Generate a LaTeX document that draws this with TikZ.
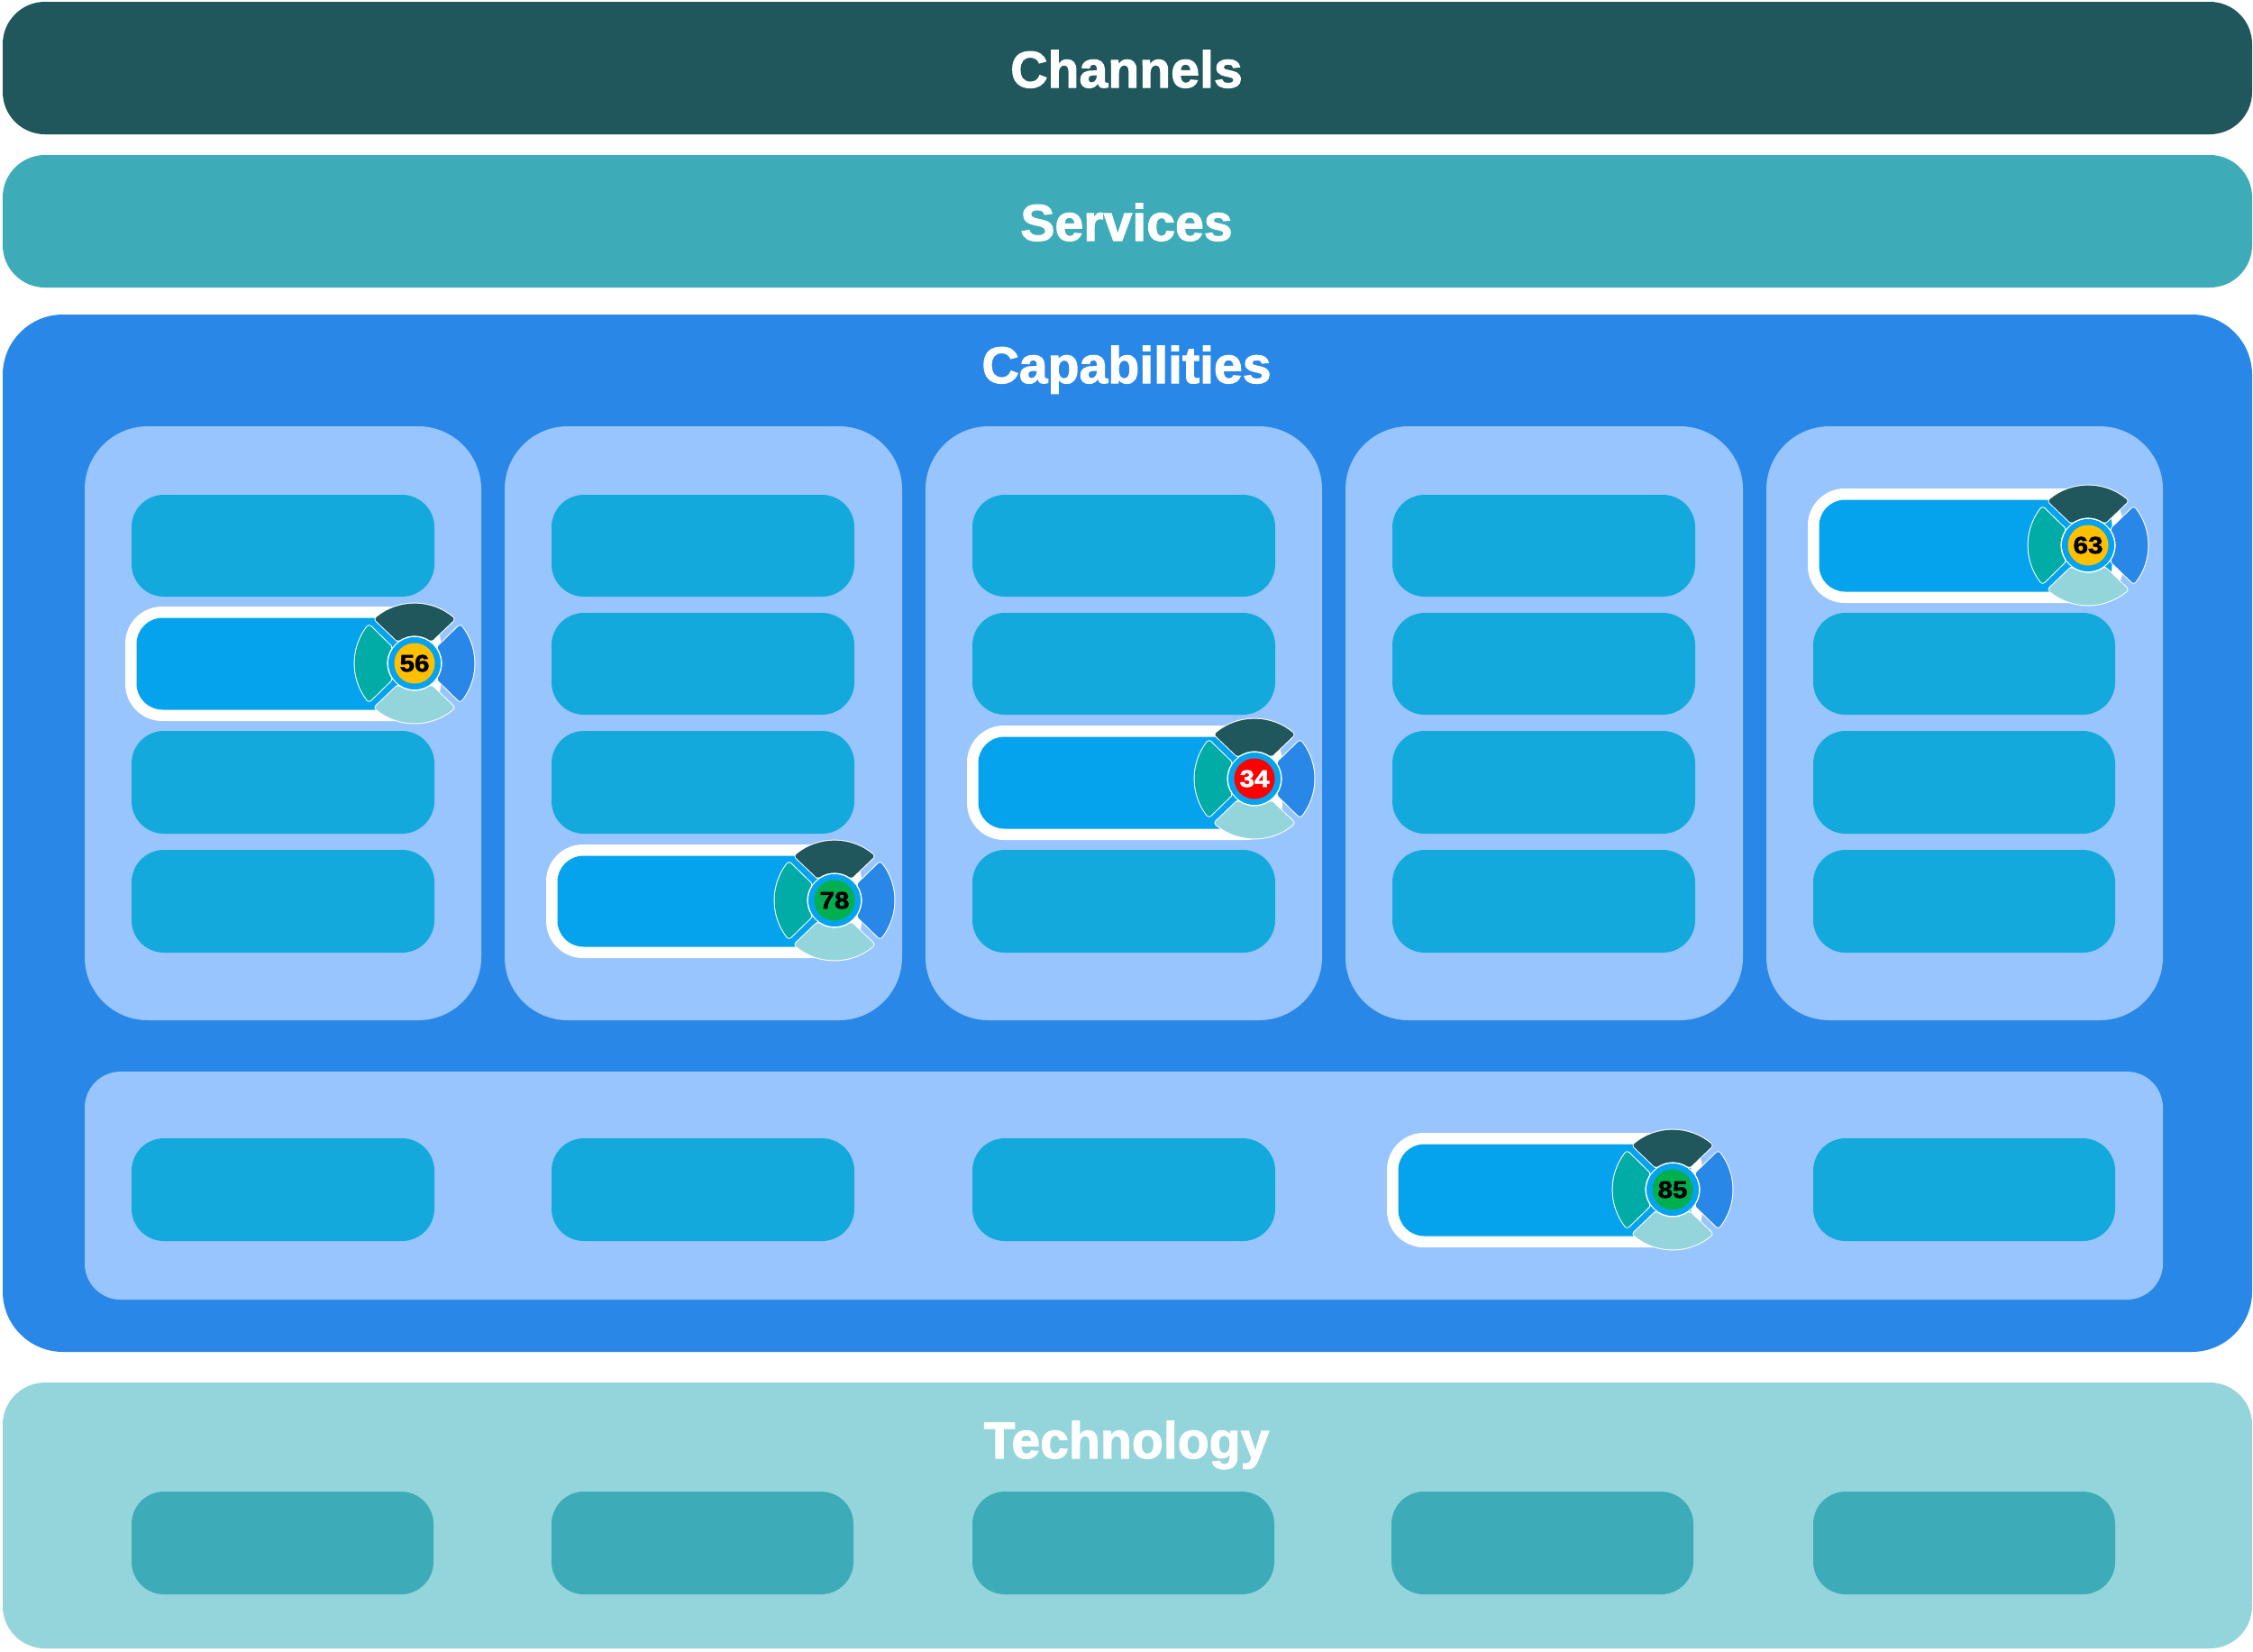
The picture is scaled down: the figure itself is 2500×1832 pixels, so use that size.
\documentclass[tikz,border=0pt]{standalone}
\usepackage{fontspec}
\setmainfont[BoldFeatures={FakeBold=1.8}]{Liberation Sans}
\newfontfamily\numfont[BoldFeatures={FakeBold=1.8,FakeStretch=1.12}]{Liberation Sans}
\definecolor{cChan}{HTML}{1F575C}
\definecolor{cServ}{HTML}{3EACB8}
\definecolor{cCap}{HTML}{2987E8}
\definecolor{cCol}{HTML}{99C5FF}
\definecolor{cBox}{HTML}{13A9DC}
\definecolor{cHi}{HTML}{05A3EE}
\definecolor{cTeal}{HTML}{00ACA5}
\definecolor{cPale}{HTML}{94D5DB}
\definecolor{cYel}{HTML}{FFC000}
\definecolor{cGrn}{HTML}{00B04F}
\definecolor{cRed}{HTML}{FF0000}
\tikzset{
  panelbox/.style={rectangle,inner sep=0pt,outer sep=0pt,draw=none},
  titletext/.style={text=white,font=\fontsize{28.6}{34}\selectfont\bfseries,anchor=base,inner sep=0pt},
  numtext/.style={font=\numfont\fontsize{13.2}{16}\selectfont\bfseries,circle,inner sep=0pt,minimum size=22.5pt},
}
% name, x1, y1, x2, y2, radius(px), fill
\newcommand{\pbox}[7]{\node[panelbox,fill=#7,rounded corners={#6*0.5pt},minimum width={(#4-#2)*0.5pt},minimum height={(#5-#3)*0.5pt}] (#1) at ({(#2+#4)/2},{(#3+#5)/2}) {};}
% mid angle, outer half angle, inner half angle, fill
\newcommand{\wedgeshape}[4]{%
  \def\wedgepath{({#1-#2}:64) arc[start angle={#1-#2},end angle={#1+#2},radius=64] -- ({#1+#3}:33) arc[start angle={#1+#3},end angle={#1-#3},radius=33] -- cycle}%
  \draw[white,line width=3.4pt,line join=round] \wedgepath;
  \draw[#4,fill=#4,line width=2.4pt,line join=round] \wedgepath;}
% name, x1, y1, y2, cx, cy, fill, text colour, number
\newcommand{\hiliter}[9]{%
  \pbox{#1o}{#2}{#3}{(#2+350)}{#4}{41}{white}
  \pbox{#1i}{(#2+12.5)}{(#3+12.5)}{(#2+337.5)}{(#4-12.5)}{29}{cHi}
  \begin{scope}[shift={(#5,#6)}]
    \fill[cHi] (0,0) circle[radius=30];
    \wedgeshape{-90}{40}{34}{cChan}
    \wedgeshape{90}{40}{34}{cPale}
    \wedgeshape{180}{38}{32}{cTeal}
    \wedgeshape{0}{38}{32}{cCap}
    \draw[white,line width=0.7pt] (0,0) circle[radius=29.5];
    \fill[cHi] (0,0) circle[radius=29];
    \node[numtext,fill=#7,text=#8] (#1n) at (0,0) {#9};
  \end{scope}}
\begin{document}
\begin{tikzpicture}[x=0.5pt,y=-0.5pt]
\useasboundingbox[fill=white] (0,0) rectangle (2500,1832);
\pbox{chan}{3}{2}{2499}{149}{47}{cChan}
\pbox{serv}{3}{172}{2499}{319}{47}{cServ}
\pbox{capa}{3}{349}{2499}{1500}{67}{cCap}
\pbox{tech}{3}{1534}{2499}{1829}{47}{cPale}
\node[titletext] (tchan) at (1250,97) {Channels};
\node[titletext] (tserv) at (1250,267) {Services};
\node[titletext] (tcapa) at (1250,425) {Capabilities};
\node[titletext] (ttech) at (1250,1618) {Technology};
% columns
\pbox{c1}{94}{473}{534}{1132}{70}{cCol}
\pbox{c2}{560}{473}{1001}{1132}{70}{cCol}
\pbox{c3}{1027}{473}{1467}{1132}{70}{cCol}
\pbox{c4}{1493}{473}{1934}{1132}{70}{cCol}
\pbox{c5}{1960}{473}{2400}{1132}{70}{cCol}
\pbox{pan}{94}{1189}{2400}{1442}{40}{cCol}
% boxes: column 1
\pbox{a1}{146}{549}{482}{662}{36}{cBox}
\pbox{a3}{146}{811}{482}{925}{36}{cBox}
\pbox{a4}{146}{943}{482}{1057}{36}{cBox}
% column 2
\pbox{b1}{612}{549}{948}{662}{36}{cBox}
\pbox{b2}{612}{680}{948}{793}{36}{cBox}
\pbox{b3}{612}{811}{948}{925}{36}{cBox}
% column 3
\pbox{d1}{1079}{549}{1415}{662}{36}{cBox}
\pbox{d2}{1079}{680}{1415}{793}{36}{cBox}
\pbox{d4}{1079}{943}{1415}{1057}{36}{cBox}
% column 4
\pbox{e1}{1545}{549}{1881}{662}{36}{cBox}
\pbox{e2}{1545}{680}{1881}{793}{36}{cBox}
\pbox{e3}{1545}{811}{1881}{925}{36}{cBox}
\pbox{e4}{1545}{943}{1881}{1057}{36}{cBox}
% column 5
\pbox{f2}{2012}{680}{2347}{793}{36}{cBox}
\pbox{f3}{2012}{811}{2347}{925}{36}{cBox}
\pbox{f4}{2012}{943}{2347}{1057}{36}{cBox}
% bottom panel row
\pbox{g1}{146}{1263}{482}{1377}{36}{cBox}
\pbox{g2}{612}{1263}{948}{1377}{36}{cBox}
\pbox{g3}{1079}{1263}{1415}{1377}{36}{cBox}
\pbox{g5}{2012}{1263}{2347}{1377}{36}{cBox}
% technology row
\pbox{t1}{146}{1655}{481}{1769}{36}{cServ}
\pbox{t2}{612}{1655}{947}{1769}{36}{cServ}
\pbox{t3}{1079}{1655}{1414}{1769}{36}{cServ}
\pbox{t4}{1544}{1655}{1879}{1769}{36}{cServ}
\pbox{t5}{2012}{1655}{2347}{1769}{36}{cServ}
% highlighted boxes
\hiliter{a2}{139}{673}{800}{460}{736}{cYel}{black}{56}
\hiliter{b4}{606}{937}{1063}{926}{999}{cGrn}{black}{78}
\hiliter{d3}{1073}{805}{932}{1392}{864}{cRed}{white}{34}
\hiliter{f1}{2006}{542}{669}{2317}{605}{cYel}{black}{63}
\hiliter{g4}{1539}{1257}{1384}{1856}{1320}{cGrn}{black}{85}
\end{tikzpicture}
\end{document}
